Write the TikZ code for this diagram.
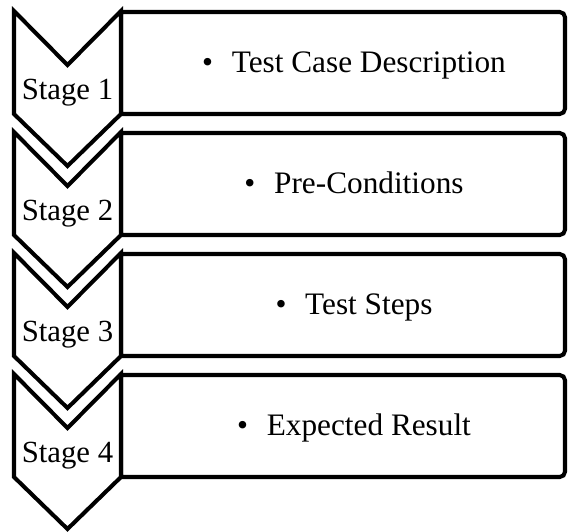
\documentclass[tikz,border=0pt]{standalone}
\usepackage{fontspec}
\setmainfont{Liberation Serif}
\begin{document}
\begin{tikzpicture}[x=0.02cm,y=-0.02cm]
\tikzstyle{every node}=[font=\fontsize{17.5}{21}\selectfont,inner sep=0pt]
\tikzstyle{outline}=[line width=2.3pt,draw=black]

\useasboundingbox[fill=white] (0,0) rectangle (568,531);

% one stage per row: box on the right, chevron on the left
\foreach \i/\txt in {1/Test Case Description,2/Pre-Conditions,3/Test Steps,4/Expected Result}{
  \pgfmathsetmacro{\yt}{12+121*(\i-1)}
  \pgfmathsetmacro{\yb}{\yt+102}

  % box
  \draw[outline] (121,\yt) [rounded corners=3pt] -- (565,\yt) -- (565,\yb)
     [sharp corners] -- (121,\yb) -- cycle;
  \node[anchor=base,font=\fontsize{17.8}{21}\selectfont] (item\i) at (354,\yt+60)
     {\textbullet\hspace{0.6em}\txt};

  % chevron
  \draw[outline,fill=white] (14,\yt-1) -- (67.5,\yt+53) -- (121,\yt-1)
     -- (121,\yb) -- (67.5,\yb+52) -- (14,\yb) -- cycle;
  \node[anchor=base] (stage\i) at (67.5,\yt+87) {Stage \i};
}
\end{tikzpicture}
\end{document}
